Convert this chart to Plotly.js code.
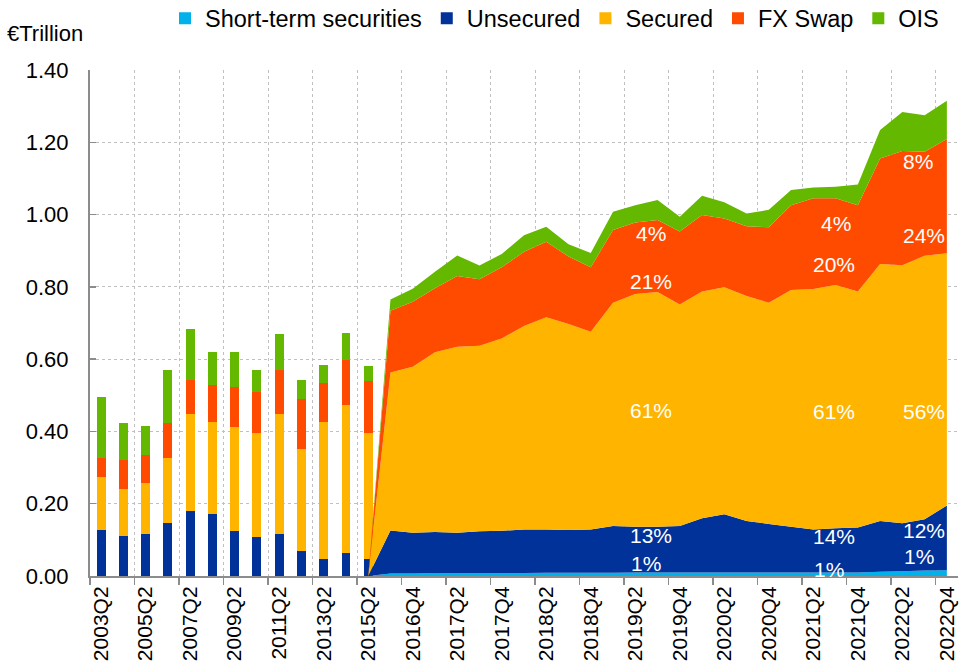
<!DOCTYPE html>
<html>
<head>
<meta charset="utf-8">
<script src="https://cdn.plot.ly/plotly-3.0.1.min.js"></script>
<style>
  html, body { margin: 0; padding: 0; background: #fff; }
  #chart { width: 960px; height: 667px; }
</style>
</head>
<body>
<div id="chart"></div>
<script>
// ---------- data ----------
// Annual observations (bars)
var years = ['2003Q2','2004Q2','2005Q2','2006Q2','2007Q2','2008Q2','2009Q2',
             '2010Q2','2011Q2','2012Q2','2013Q2','2014Q2','2015Q2'];
var barShortTerm = [0,0,0,0,0,0,0,0,0,0,0,0,0];
var barUnsecured = [0.127,0.111,0.115,0.146,0.180,0.172,0.125,0.108,0.115,0.069,0.048,0.065,0.046];
var barSecured   = [0.148,0.130,0.143,0.180,0.268,0.253,0.288,0.289,0.333,0.283,0.377,0.407,0.349];
var barFxSwap    = [0.052,0.079,0.077,0.096,0.093,0.104,0.109,0.113,0.122,0.137,0.110,0.127,0.144];
var barOis       = [0.167,0.102,0.080,0.147,0.142,0.091,0.098,0.060,0.099,0.052,0.048,0.072,0.042];

// Quarterly observations (areas)
var quarters = ['2016Q3','2016Q4','2017Q1','2017Q2','2017Q3','2017Q4','2018Q1','2018Q2','2018Q3','2018Q4',
                '2019Q1','2019Q2','2019Q3','2019Q4','2020Q1','2020Q2','2020Q3','2020Q4','2021Q1','2021Q2',
                '2021Q3','2021Q4','2022Q1','2022Q2','2022Q3','2022Q4'];
var areaShortTerm = [0.007,0.007,0.008,0.008,0.008,0.008,0.008,0.009,0.009,0.009,
                     0.009,0.010,0.010,0.010,0.010,0.010,0.010,0.010,0.010,0.010,
                     0.010,0.010,0.012,0.013,0.015,0.016];
var areaUnsecured = [0.119,0.113,0.114,0.112,0.116,0.117,0.121,0.120,0.118,0.120,
                     0.129,0.126,0.126,0.128,0.150,0.161,0.142,0.134,0.126,0.119,
                     0.122,0.124,0.140,0.133,0.142,0.179];
var areaSecured   = [0.437,0.459,0.497,0.514,0.513,0.532,0.563,0.587,0.570,0.547,
                     0.618,0.644,0.650,0.613,0.627,0.628,0.623,0.612,0.655,0.665,
                     0.673,0.653,0.711,0.714,0.729,0.698];
var areaFxSwap    = [0.171,0.180,0.177,0.196,0.184,0.197,0.205,0.209,0.187,0.178,
                     0.201,0.198,0.199,0.202,0.212,0.190,0.193,0.209,0.235,0.251,
                     0.240,0.239,0.292,0.316,0.288,0.316];
var areaOis       = [0.031,0.036,0.046,0.057,0.038,0.037,0.046,0.041,0.034,0.040,
                     0.051,0.048,0.055,0.041,0.053,0.045,0.035,0.048,0.042,0.030,
                     0.032,0.057,0.079,0.108,0.101,0.106];

var seriesNames = ['Short-term securities','Unsecured','Secured','FX Swap','OIS'];
var seriesColors = ['#00B1EA','#003299','#FFB400','#FF4B00','#65B800'];

// Share labels (text, category index, value position)
var shareText = ['4%','21%','61%','13%','1%',
                 '4%','20%','61%','14%','1%',
                 '8%','24%','56%','12%','1%'];
var shareX = [24.69,24.69,24.69,24.69,24.50,
              33.00,32.92,32.92,32.92,32.70,
              36.71,36.96,36.96,36.96,36.74];
var shareY = [0.948,0.814,0.457,0.111,0.035,
              0.976,0.863,0.454,0.109,0.019,
              1.146,0.943,0.454,0.127,0.053];

// ---------- build ----------
var categories = years.concat(quarters);
var barSeries = [barShortTerm, barUnsecured, barSecured, barFxSwap, barOis];
var areaSeries = [areaShortTerm, areaUnsecured, areaSecured, areaFxSwap, areaOis];

var traces = [];
for (var i = 0; i < seriesNames.length; i++) {
  traces.push({
    type: 'bar',
    name: seriesNames[i],
    x: years,
    y: barSeries[i],
    marker: { color: seriesColors[i], line: { width: 0 } },
    legendgroup: seriesNames[i],
    showlegend: true,
    hoverinfo: 'skip'
  });
}
// Areas start from zero at the last annual category (as in the source chart)
var areaX = [years[years.length - 1]].concat(quarters);
for (var j = 0; j < seriesNames.length; j++) {
  traces.push({
    type: 'scatter',
    mode: 'none',
    name: seriesNames[j],
    x: areaX,
    y: [0].concat(areaSeries[j]),
    stackgroup: 'one',
    fillcolor: seriesColors[j],
    legendgroup: seriesNames[j],
    showlegend: false,
    hoverinfo: 'skip'
  });
}

var annotations = [];
for (var k = 0; k < shareText.length; k++) {
  annotations.push({
    xref: 'x', yref: 'y', x: shareX[k], y: shareY[k],
    text: shareText[k], showarrow: false,
    xanchor: 'center', yanchor: 'middle',
    font: { size: 21, color: '#ffffff' }
  });
}
annotations.push({
  xref: 'paper', yref: 'paper', x: -0.098, y: 1.072,
  xanchor: 'left', yanchor: 'middle',
  text: '€Trillion', showarrow: false,
  font: { size: 22, color: '#000' }
});

var axisGray = '#8c8c8c';
var gridGray = '#c0c0c0';

var layout = {
  width: 960, height: 667,
  margin: { l: 90, r: 1.5, t: 70, b: 91, pad: 0, autoexpand: false },
  paper_bgcolor: '#ffffff', plot_bgcolor: '#ffffff',
  font: { family: '"Liberation Sans", Arial, sans-serif', color: '#000000' },
  barmode: 'stack',
  bargap: 0.6,
  showlegend: true,
  legend: {
    orientation: 'h', traceorder: 'normal',
    x: 0.0864, xanchor: 'left', y: 1.102, yanchor: 'middle',
    font: { size: 23.5 }, bgcolor: 'rgba(0,0,0,0)', borderwidth: 0
  },
  xaxis: {
    type: 'category', categoryorder: 'array', categoryarray: categories,
    range: [-0.5, categories.length - 0.5],
    tickmode: 'linear', tick0: 0, dtick: 2,
    tickson: 'boundaries',
    ticks: 'outside', ticklen: 7, tickwidth: 1.5, tickcolor: axisGray,
    tickangle: -90, tickfont: { size: 21 },
    showline: true, linecolor: axisGray, linewidth: 2,
    showgrid: true, gridcolor: gridGray, gridwidth: 1, griddash: 'dot',
    zeroline: false, fixedrange: true, automargin: false
  },
  yaxis: {
    range: [0, 1.4], tickmode: 'linear', tick0: 0, dtick: 0.2, tickformat: '.2f',
    ticks: 'inside', ticklen: 6, tickwidth: 1.5, tickcolor: axisGray,
    tickfont: { size: 22 }, ticklabelstandoff: 15,
    showline: true, linecolor: axisGray, linewidth: 2,
    showgrid: true, gridcolor: gridGray, gridwidth: 1, griddash: 'dot',
    zeroline: false, fixedrange: true, automargin: false
  },
  annotations: annotations
};

Plotly.newPlot('chart', traces, layout, { displayModeBar: false, staticPlot: true });
</script>
</body>
</html>
